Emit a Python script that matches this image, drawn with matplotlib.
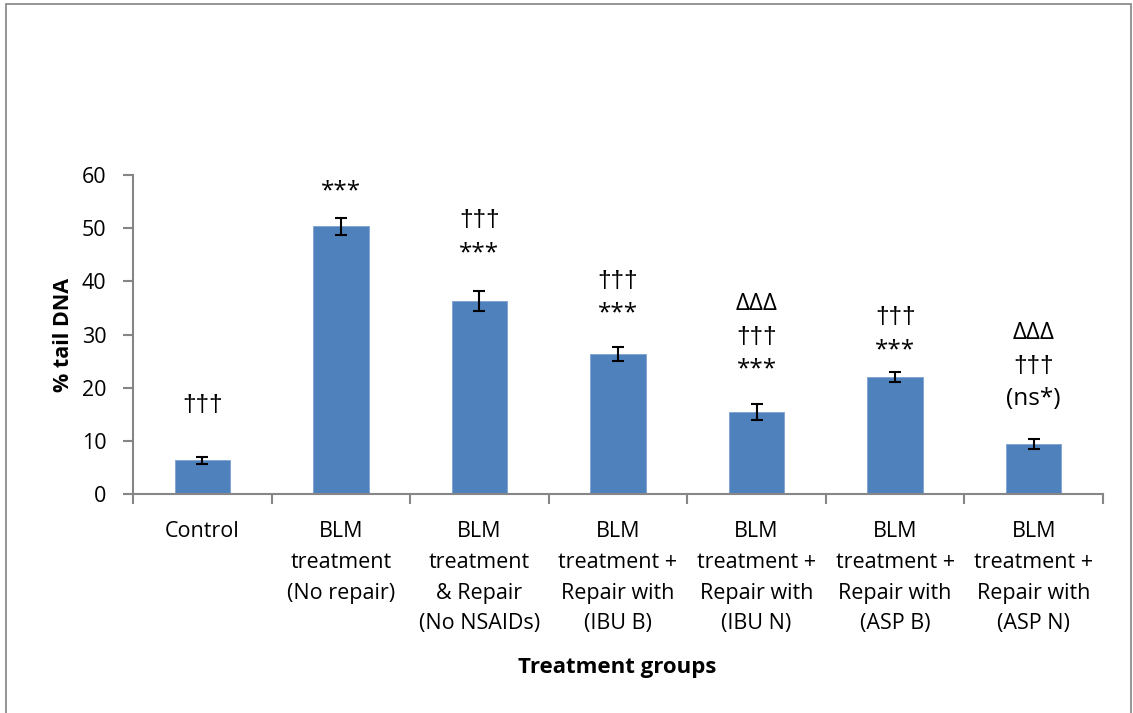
import matplotlib

matplotlib.use("Agg")
import matplotlib.pyplot as plt
import numpy as np
from matplotlib.patches import Rectangle

plt.rcParams["font.family"] = ["Open Sans", "DejaVu Sans"]

groups = [
    "Control",
    "BLM\ntreatment\n(No repair)",
    "BLM\ntreatment\n& Repair\n(No NSAIDs)",
    "BLM\ntreatment +\nRepair with\n(IBU B)",
    "BLM\ntreatment +\nRepair with\n(IBU N)",
    "BLM\ntreatment +\nRepair with\n(ASP B)",
    "BLM\ntreatment +\nRepair with\n(ASP N)",
]
tail_dna = [6.4, 50.4, 36.3, 26.3, 15.4, 22.05, 9.45]
tail_err = [0.7, 1.6, 1.9, 1.3, 1.5, 0.9, 0.9]
# significance marks, listed bottom line first
marks = [
    ["†††"],
    ["***"],
    ["***", "†††"],
    ["***", "†††"],
    ["***", "†††", "ΔΔΔ"],
    ["***", "†††"],
    ["(ns*)", "†††", "ΔΔΔ"],
]
mark_base = [16.8, 56.9, 45.3, 33.9, 23.4, 27.1, 18.0]

BAR_COLOR = "#4F81BD"
AXIS_GRAY = "#868686"

fig = plt.figure(figsize=(11.33, 7.13), dpi=100)
fig.patches.append(
    Rectangle((6 / 1133, -0.05), 1125 / 1133, 1.05 - 4 / 713,
              transform=fig.transFigure, fill=False,
              edgecolor="#8c8c8c", linewidth=1.3)
)
ax = fig.add_axes([133 / 1133, 1 - 494.3 / 713, 970 / 1133, 319.3 / 713])

x = np.arange(len(groups))
ax.bar(x, tail_dna, width=0.4, color=BAR_COLOR, edgecolor="#7ea2cf", linewidth=0.6, zorder=2)
ax.errorbar(x, tail_dna, yerr=tail_err, fmt="none", ecolor="black",
            elinewidth=1.5, capsize=4.5, capthick=1.5, zorder=3)

line_step = 33 * 0.72
for i, lines in enumerate(marks):
    for k, txt in enumerate(lines):
        # Open Sans draws a very slim dagger, so use a fuller one
        fam = ["Liberation Sans", "DejaVu Sans"] if "†" in txt else None
        ax.annotate(txt, xy=(x[i], mark_base[i]), xytext=(0, k * line_step),
                    textcoords="offset points", ha="center", va="center",
                    fontsize=17.5, color="black", family=fam)

ax.set_xlim(-0.5, len(groups) - 0.5)
ax.set_ylim(0, 60)
ax.set_yticks(np.arange(0, 61, 10))
ax.set_xticks(np.arange(len(groups) + 1) - 0.5, minor=True)
ax.set_xticks(x)
ax.set_xticklabels(groups, fontsize=15.5, linespacing=1.62, va="top")
ax.tick_params(axis="x", which="major", length=0, pad=19)
ax.tick_params(axis="x", which="minor", length=7, width=1.5, color=AXIS_GRAY)
ax.tick_params(axis="y", length=7, width=1.5, color=AXIS_GRAY, labelsize=15.5, pad=12)

for side in ("top", "right"):
    ax.spines[side].set_visible(False)
for side in ("left", "bottom"):
    ax.spines[side].set_color(AXIS_GRAY)
    ax.spines[side].set_linewidth(1.5)

ax.set_ylabel("% tail DNA", fontsize=15.5, fontweight="bold", labelpad=6)
fig.text(617 / 1133, 1 - 668 / 713, "Treatment groups", ha="center", va="center",
         fontsize=16, fontweight="bold")

fig.savefig("out.png", dpi=100)
